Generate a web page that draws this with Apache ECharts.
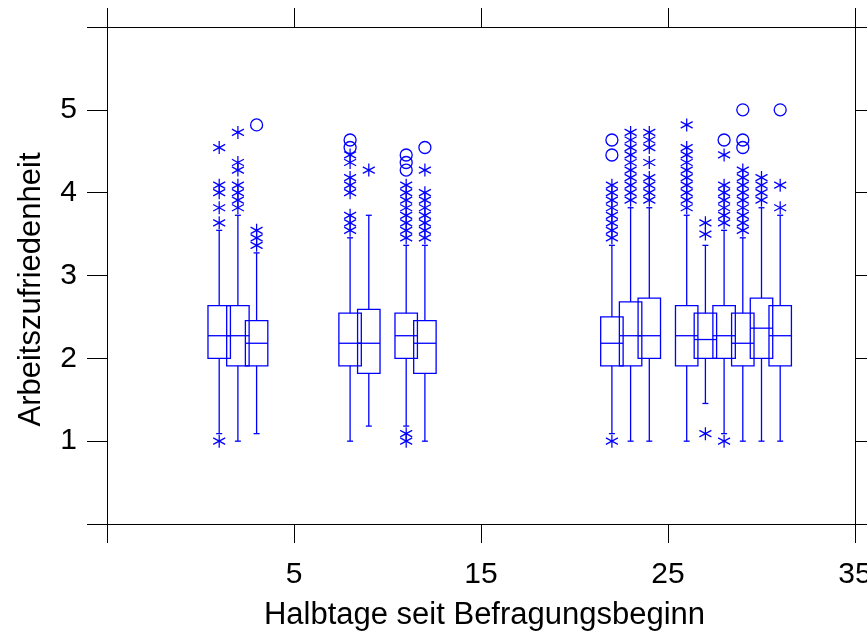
<!DOCTYPE html>
<html>
<head>
<meta charset="utf-8">
<script src="https://cdn.jsdelivr.net/npm/echarts@6/dist/echarts.min.js"></script>
<style>
html,body{margin:0;padding:0;background:#fff;}
#c{width:867px;height:635px;}
</style>
</head>
<body>
<div id="c"></div>
<script>
// ---- data ----
const positions   = [1, 2, 3, 8, 9, 11, 12, 22, 23, 24, 26, 27, 28, 29, 30, 31];
const whiskerLow  = [1.091, 1.000, 1.091, 1.000, 1.182, 1.182, 1.000, 1.091, 1.000, 1.000, 1.000, 1.455, 1.091, 1.000, 1.000, 1.000];
const q1          = [2.000, 1.909, 1.909, 1.909, 1.818, 2.000, 1.818, 1.909, 1.909, 2.000, 1.909, 2.000, 2.000, 1.909, 2.000, 1.909];
const median      = [2.273, 2.273, 2.182, 2.182, 2.182, 2.273, 2.182, 2.182, 2.273, 2.273, 2.273, 2.227, 2.273, 2.182, 2.364, 2.273];
const q3          = [2.636, 2.636, 2.455, 2.545, 2.591, 2.545, 2.455, 2.500, 2.682, 2.727, 2.636, 2.545, 2.636, 2.545, 2.727, 2.636];
const whiskerHigh = [3.545, 3.727, 3.273, 3.455, 3.727, 3.364, 3.364, 3.364, 3.818, 3.818, 3.727, 3.364, 3.545, 3.455, 3.818, 3.727];

// asterisk outliers (moderate) per box
const asteriskOutliers = [
  [1.000, 3.636, 3.818, 4.000, 4.091, 4.545],
  [3.818, 3.909, 4.000, 4.091, 4.273, 4.364, 4.727],
  [3.364, 3.455, 3.545],
  [3.545, 3.636, 3.727, 4.000, 4.091, 4.182, 4.364, 4.455],
  [4.273],
  [1.000, 1.091, 3.455, 3.545, 3.636, 3.727, 3.818, 3.909, 4.000, 4.091],
  [3.455, 3.545, 3.636, 3.727, 3.818, 3.909, 4.000, 4.273],
  [1.000, 3.455, 3.545, 3.636, 3.727, 3.818, 3.909, 4.000, 4.091],
  [3.909, 4.000, 4.091, 4.182, 4.273, 4.364, 4.455, 4.545, 4.636, 4.727],
  [3.909, 4.000, 4.091, 4.182, 4.364, 4.545, 4.636, 4.727],
  [3.818, 3.909, 4.000, 4.091, 4.182, 4.273, 4.364, 4.455, 4.545, 4.818],
  [1.091, 3.500, 3.636],
  [1.000, 3.636, 3.727, 3.818, 3.909, 4.000, 4.091, 4.455],
  [3.545, 3.636, 3.727, 3.818, 3.909, 4.000, 4.091, 4.182, 4.273],
  [3.909, 4.000, 4.091, 4.182],
  [3.818, 4.091]
];
// circle outliers (extreme) per box
const circleOutliers = [
  [], [], [4.818], [4.545, 4.636], [], [4.273, 4.364, 4.455], [4.545],
  [4.455, 4.636], [], [], [], [], [4.636], [4.545, 4.636, 5.000], [], [5.000]
];

const xTickValues = [5, 15, 25, 35];
const yTickValues = [1, 2, 3, 4, 5];
const xTitle = 'Halbtage seit Befragungsbeginn';
const yTitle = 'Arbeitszufriedenheit';

// ---- build series data ----
const boxData = positions.map((x, i) => [x, whiskerLow[i], q1[i], median[i], q3[i], whiskerHigh[i]]);
const asteriskData = [];
const circleData = [];
positions.forEach((x, i) => {
  asteriskOutliers[i].forEach(v => asteriskData.push([x, v]));
  circleOutliers[i].forEach(v => circleData.push([x, v]));
});

const BLUE = '#0000ff';
const FONT = '"Liberation Sans", Arial, Helvetica, sans-serif';
const BOX_WIDTH_UNITS = 1.2;
const CAP = 3;
const LW = 1.3;

function renderBox(params, api) {
  const x = api.value(0);
  const lo = api.coord([x, api.value(1)]);
  const p1 = api.coord([x, api.value(2)]);
  const pm = api.coord([x, api.value(3)]);
  const p3 = api.coord([x, api.value(4)]);
  const hi = api.coord([x, api.value(5)]);
  const hw = api.size([BOX_WIDTH_UNITS, 0])[0] / 2;
  const cx = p1[0];
  const style = { stroke: BLUE, lineWidth: LW, fill: 'none' };
  return {
    type: 'group',
    children: [
      { type: 'line', shape: { x1: cx, y1: hi[1], x2: cx, y2: p3[1] }, style },
      { type: 'line', shape: { x1: cx - CAP, y1: hi[1], x2: cx + CAP, y2: hi[1] }, style },
      { type: 'line', shape: { x1: cx, y1: lo[1], x2: cx, y2: p1[1] }, style },
      { type: 'line', shape: { x1: cx - CAP, y1: lo[1], x2: cx + CAP, y2: lo[1] }, style },
      { type: 'rect', shape: { x: cx - hw, y: p3[1], width: 2 * hw, height: p1[1] - p3[1] }, style },
      { type: 'line', shape: { x1: cx - hw, y1: pm[1], x2: cx + hw, y2: pm[1] }, style }
    ]
  };
}

const lineStyle = { color: '#000', width: 1 };
function xAxisCfg(pos, withLabels) {
  return {
    type: 'value', position: pos, min: -5, max: 35, interval: 10,
    axisLine: { show: true, onZero: false, lineStyle },
    axisTick: { show: true, inside: false, length: 19, lineStyle },
    axisLabel: {
      show: withLabels, margin: 36, fontSize: 30, color: '#000', fontFamily: FONT,
      showMinLabel: true, showMaxLabel: true,
      formatter: v => (xTickValues.indexOf(v) >= 0 ? String(v) : '')
    },
    splitLine: { show: false }
  };
}
function yAxisCfg(pos, withLabels) {
  return {
    type: 'value', position: pos, min: 0, max: 6, interval: 1,
    axisLine: { show: true, onZero: false, lineStyle },
    axisTick: { show: true, inside: false, length: 20, lineStyle },
    axisLabel: {
      show: withLabels, margin: 30, fontSize: 30, color: '#000', fontFamily: FONT,
      showMinLabel: true, showMaxLabel: true,
      formatter: v => (yTickValues.indexOf(v) >= 0 ? String(v) : '')
    },
    splitLine: { show: false }
  };
}

const xBottom = Object.assign(xAxisCfg('bottom', true), {
  name: xTitle, nameLocation: 'middle', nameGap: 76,
  nameTextStyle: { fontSize: 31, color: '#000', fontFamily: FONT, padding: [0, 0, 0, 7] }
});
const yLeft = Object.assign(yAxisCfg('left', true), {
  name: yTitle, nameLocation: 'middle', nameGap: 60,
  nameTextStyle: { fontSize: 31, color: '#000', fontFamily: FONT, padding: [0, 28, 0, 0] }
});

const chart = echarts.init(document.getElementById('c'), null, { renderer: 'canvas' });
chart.setOption({
  animation: false,
  backgroundColor: '#fff',
  grid: { left: 107, top: 27, right: 12, bottom: 111, containLabel: false, outerBoundsMode: 'none' },
  xAxis: [xBottom, xAxisCfg('top', false)],
  yAxis: [yLeft, yAxisCfg('right', false)],
  series: [
    {
      type: 'custom', renderItem: renderBox, data: boxData,
      encode: { x: 0, y: [1, 2, 3, 4, 5] }, silent: true, clip: false
    },
    {
      type: 'scatter', data: asteriskData, silent: true,
      symbol: 'path://M6,0L6,13M0.4,3.25L11.6,9.75M0.4,9.75L11.6,3.25',
      symbolSize: [12, 13],
      itemStyle: { color: 'rgba(0,0,0,0)', borderColor: BLUE, borderWidth: LW, opacity: 1 },
      emphasis: { disabled: true }
    },
    {
      type: 'scatter', data: circleData, silent: true,
      symbol: 'circle', symbolSize: 12,
      itemStyle: { color: 'rgba(0,0,0,0)', borderColor: BLUE, borderWidth: LW, opacity: 1 },
      emphasis: { disabled: true }
    }
  ]
});
</script>
</body>
</html>
